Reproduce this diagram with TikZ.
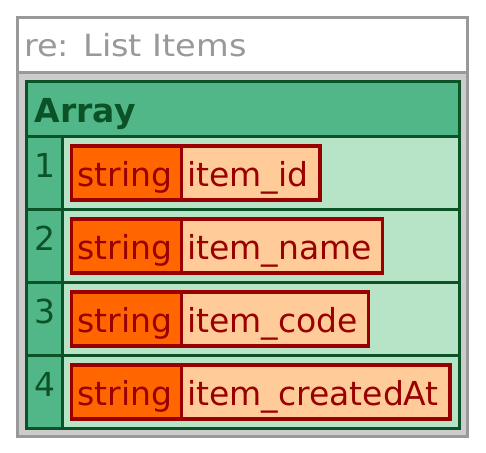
\documentclass[tikz,border=0pt]{standalone}
\usepackage{fontspec}
\newfontfamily\bodyfont{DejaVu Sans}
\newfontfamily\titlefont[FakeStretch=1.1]{DejaVu Sans}
\definecolor{outergrey}{HTML}{999999}
\definecolor{innergrey}{HTML}{CCCCCC}
\definecolor{dkgreen}{HTML}{0B5226}
\definecolor{midgreen}{HTML}{52B788}
\definecolor{ltgreen}{HTML}{B7E4C7}
\definecolor{dkred}{HTML}{990000}
\definecolor{orng}{HTML}{FF6600}
\definecolor{peach}{HTML}{FFCC99}
\tikzset{
  greyline/.style={draw=outergrey, line width=3.4pt},
  greenline/.style={draw=dkgreen, line width=3.4pt},
  redline/.style={draw=dkred, line width=3.4pt},
  titletext/.style={anchor=base west, inner sep=0pt, text=outergrey, font=\titlefont\fontsize{30.5}{30.5}\selectfont},
  headtext/.style={anchor=base west, inner sep=0pt, text=dkgreen, font=\bodyfont\bfseries\fontsize{33}{33}\selectfont},
  idxtext/.style={anchor=base, inner sep=0pt, text=dkgreen, font=\bodyfont\fontsize{33}{33}\selectfont},
  typetext/.style={anchor=base west, inner sep=0pt, text=dkred, font=\bodyfont\fontsize{33}{33}\selectfont},
}
\begin{document}
\begin{tikzpicture}[x=1pt, y=-1pt]
\useasboundingbox (0,0) rectangle (486,452);
% outer frame
\fill[white] (17.5,17.5) rectangle (467.5,72.5);
\fill[innergrey] (17.5,72.5) rectangle (467.5,436.5);
% array area
\fill[midgreen] (26.5,81.5) rectangle (459.5,136.5);
\fill[midgreen] (26.5,136.5) rectangle (62.5,428.5);
\fill[ltgreen] (62.5,136.5) rectangle (459.5,428.5);
\foreach \yy in {136.5,209.5,282.5,355.5}
  \draw[greenline] (26.5,\yy) -- (459.5,\yy);
\draw[greenline] (62.5,136.5) -- (62.5,428.5);
\draw[greenline] (26.5,81.5) rectangle (459.5,428.5);
\draw[greyline] (17.5,72.5) -- (467.5,72.5);
\draw[greyline] (17.5,17.5) rectangle (467.5,436.5);
% texts
\node[titletext] (title) at (24,56.5) {re: List Items};
\node[headtext] (head) at (34.5,122) {Array};
% rows
\foreach \k/\L/\R/\nm in {1/136.5/320/item\_id, 2/209.5/382.5/item\_name, 3/282.5/368.5/item\_code, 4/355.5/450/item\_createdAt}{
  \fill[orng] (71.5,\L+9.5) rectangle (181.5,\L+63.5);
  \fill[peach] (181.5,\L+9.5) rectangle (\R,\L+63.5);
  \draw[redline] (71.5,\L+9.5) rectangle (\R,\L+63.5);
  \draw[redline] (181.5,\L+9.5) -- (181.5,\L+63.5);
  \node[idxtext] (idx\k) at (44.5,\L+40.5) {\k};
  \node[typetext] (type\k) at (77.5,\L+49.5) {string};
  \node[typetext] (name\k) at (187,\L+49.5) {\nm};
}
\end{tikzpicture}
\end{document}
